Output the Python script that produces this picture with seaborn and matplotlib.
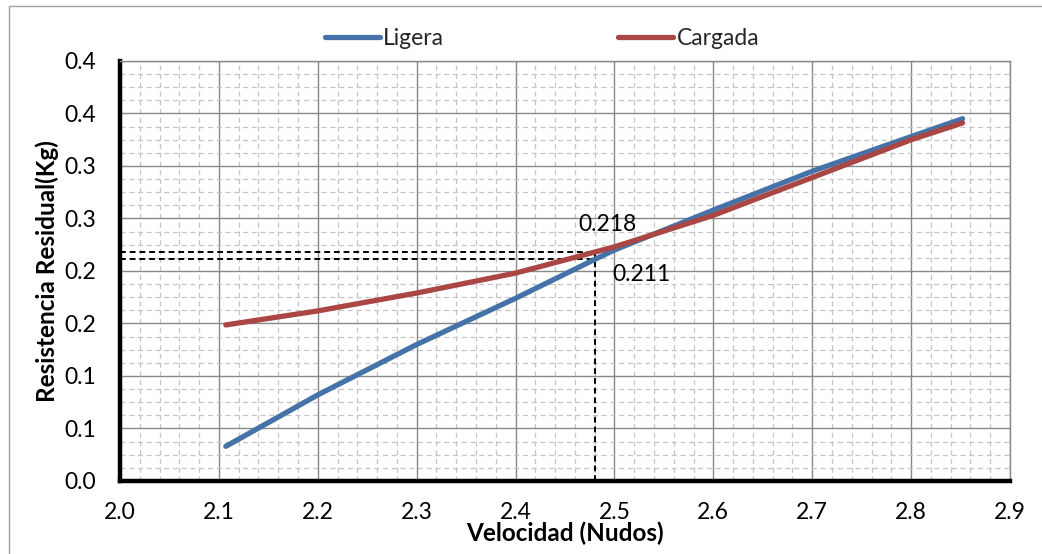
import matplotlib
matplotlib.use("Agg")
import matplotlib.pyplot as plt
from matplotlib.ticker import MultipleLocator, FixedLocator
from matplotlib.patches import Rectangle
from matplotlib.lines import Line2D
import seaborn as sns
import pandas as pd

# ---- data ----
velocidad = [2.107, 2.2, 2.3, 2.4, 2.48, 2.5, 2.6, 2.7, 2.8, 2.852]
ligera = [0.033, 0.082, 0.130, 0.174, 0.211, 0.220, 0.258, 0.295, 0.328, 0.345]
cargada = [0.1486, 0.162, 0.179, 0.198, 0.218, 0.223, 0.253, 0.289, 0.325, 0.341]
series_names = ["Ligera", "Cargada"]
x_ticks = [2.0, 2.1, 2.2, 2.3, 2.4, 2.5, 2.6, 2.7, 2.8, 2.9]
y_ticks = [0.0, 0.05, 0.10, 0.15, 0.20, 0.25, 0.30, 0.35, 0.40]
y_tick_labels = ["0.0", "0.1", "0.1", "0.2", "0.2", "0.3", "0.3", "0.4", "0.4"]
ref_x = 2.48
ref_cargada = 0.218
ref_ligera = 0.211

df = pd.DataFrame({
    "Velocidad": velocidad * 2,
    "Resistencia": ligera + cargada,
    "Serie": [series_names[0]] * len(velocidad) + [series_names[1]] * len(velocidad),
})

sns.set_theme(style="white")
plt.rcParams["font.family"] = ["Lato", "DejaVu Sans"]

fig = plt.figure(figsize=(10.42, 5.54), dpi=100)
ax = fig.add_axes([0.1152, 0.1318, 0.9693 - 0.1152, 0.8899 - 0.1318])

palette = {"Ligera": "#4572A7", "Cargada": "#AA4643"}
sns.lineplot(data=df, x="Velocidad", y="Resistencia", hue="Serie", palette=palette,
             linewidth=3.8, ax=ax, legend=False, solid_capstyle="round",
             solid_joinstyle="round", zorder=5)

ax.set_xlim(2.0, 2.9)
ax.set_ylim(0.0, 0.40)
ax.xaxis.set_major_locator(FixedLocator(x_ticks))
ax.yaxis.set_major_locator(FixedLocator(y_ticks))
ax.set_xticklabels([f"{v:.1f}" for v in x_ticks])
ax.set_yticklabels(y_tick_labels)
ax.xaxis.set_minor_locator(MultipleLocator(0.02))
ax.yaxis.set_minor_locator(MultipleLocator(0.0125))

ax.grid(which="major", color="#888888", linewidth=1.0, linestyle="-", zorder=1)
ax.grid(which="minor", color="#c4c4c4", linewidth=0.9, linestyle=(0, (4, 3)), zorder=0)
ax.set_axisbelow(True)

for side in ["left", "bottom"]:
    ax.spines[side].set_color("black")
    ax.spines[side].set_linewidth(3.2)
for side in ["top", "right"]:
    ax.spines[side].set_color("#888888")
    ax.spines[side].set_linewidth(1.0)

fs = 16.5
ax.tick_params(axis="both", which="major", direction="out", length=5, width=3,
               color="black", labelsize=fs, pad=10, labelcolor="black")
ax.tick_params(axis="y", which="major", pad=12)
ax.tick_params(axis="both", which="minor", length=0)

ax.set_xlabel("Velocidad (Nudos)", fontsize=17.5, fontweight="bold", color="black", labelpad=-1)
ax.set_ylabel("Resistencia Residual(Kg)", fontsize=17.5, fontweight="bold", color="black", labelpad=4)

# reference dashed lines
dash = (0, (3, 2))
ax.plot([2.0, ref_x], [ref_cargada, ref_cargada], color="black", linestyle=dash, linewidth=1.4, zorder=4)
ax.plot([2.0, ref_x], [ref_ligera, ref_ligera], color="black", linestyle=dash, linewidth=1.4, zorder=4)
ax.plot([ref_x, ref_x], [0.0, ref_cargada], color="black", linestyle=dash, linewidth=1.4, zorder=4)
ax.text(2.464, 0.244, f"{ref_cargada:.3f}", fontsize=fs, ha="left", va="center", color="black", zorder=6)
ax.text(2.498, 0.197, f"{ref_ligera:.3f}", fontsize=fs, ha="left", va="center", color="black", zorder=6)

handles = [Line2D([0], [0], color=palette[n], linewidth=3.8, solid_capstyle="round") for n in series_names]
fig.legend(handles, series_names, loc="center", bbox_to_anchor=(0.52, 0.931), ncol=2,
           frameon=False, fontsize=fs, handlelength=2.4, handletextpad=0.15,
           columnspacing=7.6)

fig.patches.append(Rectangle((9 / 1042, -0.01), 1.2, 1 - 6 / 554 + 0.01, transform=fig.transFigure,
                             fill=False, edgecolor="#a0a0a0", linewidth=1.0))

fig.savefig("out.png", dpi=100)
